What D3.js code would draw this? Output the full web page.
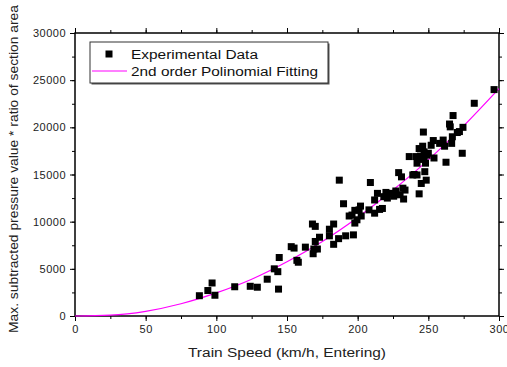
<!DOCTYPE html>
<html>
<head>
<meta charset="utf-8">
<script src="https://cdn.jsdelivr.net/npm/d3@7"></script>
<style>
  html, body { margin: 0; padding: 0; background: #fff; }
  svg { display: block; font-family: "Liberation Sans", Arial, sans-serif; }
</style>
</head>
<body>
<div id="chart"></div>
<script>
// Experimental points (train speed km/h, pressure * area ratio)
var speeds = [88, 94, 97, 99, 113, 124, 129, 136, 141, 143.5, 144, 144.5, 153, 155, 157, 158, 163,
  168, 170, 168.5, 169, 170, 171.5, 173, 180, 180, 183, 183, 187, 186.5, 190, 191.5, 194, 196, 197,
  198, 198, 199.5, 201, 202, 202.5, 209, 208, 212, 212, 214, 215.5, 217.5, 218.5, 220, 221, 225.5,
  227, 229, 230, 231, 232, 232.5, 233.5, 236.5, 239, 241.5, 242, 242, 243.5, 243.5, 244.5, 245, 246,
  246.5, 247, 247.5, 248, 248.5, 249, 250, 252, 253.5, 254, 258, 260.5, 261.5, 262.5, 265, 265.5,
  266.5, 267, 267.5, 270.5, 272, 274, 274.5, 282.5, 296.5, 244, 247, 240, 224];
var pressures = [2150, 2700, 3500, 2200, 3100, 3150, 3050, 3900, 5000, 4700, 2850, 6200, 7350, 7200,
  5900, 5700, 7300, 9750, 9500, 6600, 7100, 7900, 7100, 8350, 9200, 8500, 9750, 7600, 14400, 8200,
  11900, 8500, 10600, 10700, 8600, 11200, 9850, 10200, 11250, 11650, 10600, 14150, 11250, 12300,
  10900, 13000, 11300, 11400, 12650, 13100, 12500, 12700, 13250, 15200, 12850, 14750, 13550, 12400,
  13350, 16900, 14950, 16900, 16200, 14950, 17750, 12950, 16950, 14050, 18000, 19500, 17400, 15300,
  16200, 14400, 17050, 17250, 18100, 18600, 16750, 18300, 18650, 18000, 16300, 20350, 20050, 18300,
  19000, 21250, 19450, 19550, 17250, 20000, 22550, 24000, 16600, 16700, 15000, 13000];

// Fitted curve
var fitSpeeds = [0, 25, 50, 75, 100, 125, 150, 175, 200, 225, 250, 275, 300];
var fitValues = [0, 90, 500, 1300, 2450, 3900, 5750, 7900, 10450, 13350, 16550, 20150, 24100];

var xTicks = [0, 50, 100, 150, 200, 250, 300];
var yTicks = [0, 5000, 10000, 15000, 20000, 25000, 30000];

var W = 507, H = 367;
var margin = { top: 33, right: 8, bottom: 51, left: 75 };
var width = W - margin.left - margin.right;
var height = H - margin.top - margin.bottom;

var svg = d3.select('#chart').append('svg').attr('width', W).attr('height', H);
var g = svg.append('g').attr('transform', 'translate(' + margin.left + ',' + margin.top + ')');

var x = d3.scaleLinear().domain([0, 300]).range([0, width]);
var y = d3.scaleLinear().domain([0, 30000]).range([height, 0]);

// Minor ticks (every 25 / 2500) on all four sides
function axisStyle(sel) {
  sel.select('.domain').remove();
  sel.selectAll('line').attr('stroke', '#000').attr('stroke-width', 1);
  sel.selectAll('text').attr('fill', '#222').attr('font-size', '11px').attr('letter-spacing', '0.5px');
}
var xMinor = d3.range(0, 301, 25), yMinor = d3.range(0, 30001, 2500);
g.append('g').attr('transform', 'translate(0,' + height + ')')
  .call(d3.axisBottom(x).tickValues(xMinor).tickSize(3).tickFormat('')).call(axisStyle);
g.append('g').call(d3.axisTop(x).tickValues(xMinor).tickSize(3).tickFormat('')).call(axisStyle);
g.append('g').call(d3.axisLeft(y).tickValues(yMinor).tickSize(3).tickFormat('')).call(axisStyle);
g.append('g').attr('transform', 'translate(' + width + ',0)')
  .call(d3.axisRight(y).tickValues(yMinor).tickSize(3).tickFormat('')).call(axisStyle);

// Major ticks with labels
g.append('g').attr('transform', 'translate(0,' + height + ')')
  .call(d3.axisBottom(x).tickValues(xTicks).tickSize(5).tickPadding(4).tickFormat(d3.format('d')))
  .call(axisStyle);
g.append('g').call(d3.axisLeft(y).tickValues(yTicks).tickSize(5).tickPadding(4).tickFormat(d3.format('d')))
  .call(axisStyle);
g.append('g').call(d3.axisTop(x).tickValues(xTicks).tickSize(5).tickFormat('')).call(axisStyle);
g.append('g').attr('transform', 'translate(' + width + ',0)')
  .call(d3.axisRight(y).tickValues(yTicks).tickSize(5).tickFormat('')).call(axisStyle);

// Frame
g.append('rect').attr('width', width).attr('height', height)
  .attr('fill', 'none').attr('stroke', '#000').attr('stroke-width', 1.5);

// Fit curve
var line = d3.line()
  .x(function(d, i) { return x(fitSpeeds[i]); })
  .y(function(d) { return y(d); })
  .curve(d3.curveMonotoneX);
g.append('path').datum(fitValues).attr('d', line)
  .attr('fill', 'none').attr('stroke', '#ff00ff').attr('stroke-width', 1.2);

// Data squares
var sz = 7;
g.selectAll('.pt').data(speeds).enter().append('rect')
  .attr('x', function(d) { return x(d) - sz / 2; })
  .attr('y', function(d, i) { return y(pressures[i]) - sz / 2; })
  .attr('width', sz).attr('height', sz).attr('fill', '#000');

// Legend
var lg = svg.append('g').attr('transform', 'translate(90,42)');
lg.append('rect').attr('x', 1.5).attr('y', 1.5).attr('width', 238).attr('height', 41).attr('fill', '#555');
lg.append('rect').attr('width', 238).attr('height', 41).attr('fill', '#fff')
  .attr('stroke', '#333').attr('stroke-width', 1);
lg.append('rect').attr('x', 15.5).attr('y', 8.5).attr('width', 7).attr('height', 7).attr('fill', '#000');
lg.append('text').attr('x', 41).attr('y', 17).attr('font-size', '12px').attr('fill', '#111')
  .attr('textLength', 127).attr('lengthAdjust', 'spacingAndGlyphs').text('Experimental Data');
lg.append('line').attr('x1', 2).attr('x2', 37).attr('y1', 29).attr('y2', 29)
  .attr('stroke', '#ff00ff').attr('stroke-width', 1.2);
lg.append('text').attr('x', 41).attr('y', 34).attr('font-size', '12px').attr('fill', '#111')
  .attr('textLength', 187).attr('lengthAdjust', 'spacingAndGlyphs').text('2nd order Polinomial Fitting');

// Axis titles
svg.append('text').attr('x', 287).attr('y', 357).attr('text-anchor', 'middle')
  .attr('font-size', '12px').attr('fill', '#222')
  .attr('textLength', 198).attr('lengthAdjust', 'spacingAndGlyphs')
  .text('Train Speed (km/h, Entering)');
svg.append('text').attr('transform', 'translate(18,169) rotate(-90)').attr('text-anchor', 'middle')
  .attr('font-size', '12px').attr('fill', '#222')
  .attr('textLength', 328).attr('lengthAdjust', 'spacingAndGlyphs')
  .text('Max. subtracted pressure value * ratio of section area');
</script>
</body>
</html>
